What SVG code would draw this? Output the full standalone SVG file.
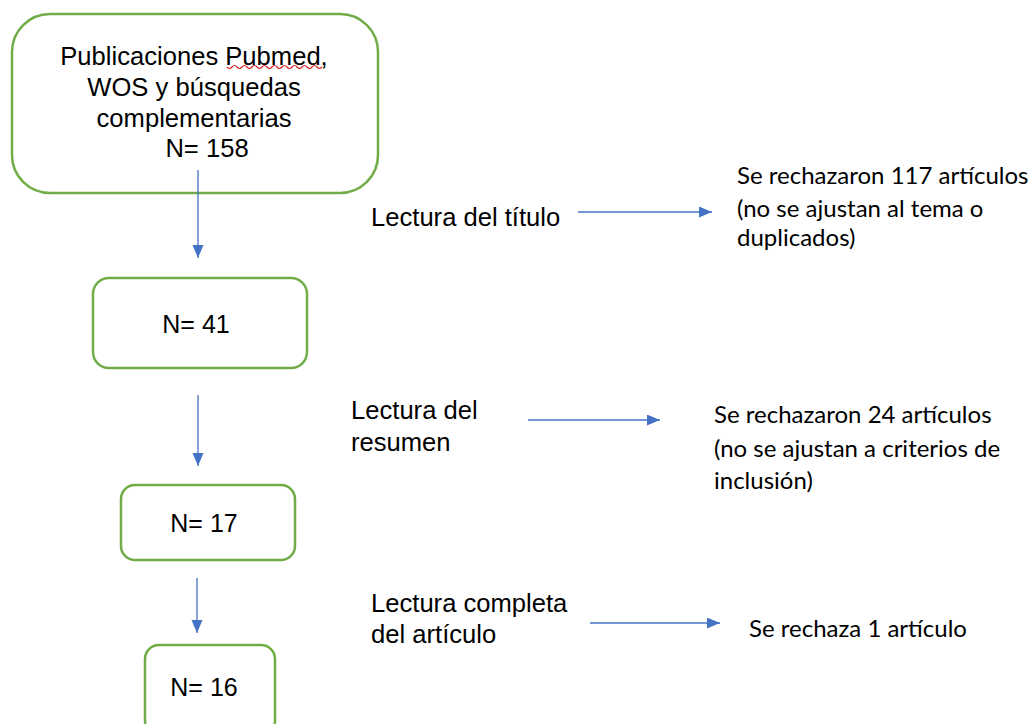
<svg xmlns="http://www.w3.org/2000/svg" width="1029" height="724" viewBox="0 0 1029 724">
<style>
.box{fill:#fff;stroke:#70AD47;stroke-width:2.5}
.t{font-family:"Liberation Sans",Arial,sans-serif;font-size:25px;fill:#000}
.lb{font-size:25.6px}
.c{font-family:Lato,"Liberation Sans",sans-serif;font-size:24px;fill:#000}
.e{stroke:#4472C4;stroke-width:1.3;fill:none;marker-end:url(#ah)}
</style>
<defs>
<marker id="ah" markerUnits="userSpaceOnUse" markerWidth="14" markerHeight="12" refX="13" refY="5.5" orient="auto">
<path d="M0,0 L13,5.5 L0,11 z" fill="#4472C4"/>
</marker>
</defs>
<rect width="1029" height="724" fill="#fff"/>
<g id="n1">
<rect class="box" x="12" y="14" width="366" height="179" rx="38"/>
<text class="t lb" text-anchor="middle" x="194" y="65">Publicaciones Pubmed,</text>
<path d="M227,67 q2.5,3 5,0 t5,0 t5,0 t5,0 t5,0 t5,0 t5,0 t5,0 t5,0 t5,0 t5,0 t5,0 t5,0 t5,0 t5,0 t5,0 t5,0 t5,0 t5,0" fill="none" stroke="#E02020" stroke-width="1.2"/>
<text class="t lb" text-anchor="middle" x="194" y="96">WOS y búsquedas</text>
<text class="t lb" text-anchor="middle" x="194" y="127">complementarias</text>
<text class="t lb" text-anchor="middle" x="207" y="157">N= 158</text>
</g>
<g id="n2">
<rect class="box" x="93" y="278" width="214" height="90" rx="16"/>
<text class="t" text-anchor="middle" x="196" y="333">N= 41</text>
</g>
<g id="n3">
<rect class="box" x="121" y="485" width="174" height="75" rx="14"/>
<text class="t" text-anchor="middle" x="204" y="532">N= 17</text>
</g>
<g id="n4">
<rect class="box" x="145" y="645" width="130" height="90" rx="14"/>
<text class="t" text-anchor="middle" x="204" y="696">N= 16</text>
</g>
<g id="l1">
<text class="t lb" x="371" y="226">Lectura del título</text>
</g>
<g id="r1">
<text class="c" x="737" y="184">Se rechazaron 117 artículos</text>
<text class="c" x="737" y="217">(no se ajustan al tema o</text>
<text class="c" x="737" y="246">duplicados)</text>
</g>
<g id="l2">
<text class="t lb" x="351" y="419">Lectura del</text>
<text class="t lb" x="351" y="451">resumen</text>
</g>
<g id="r2">
<text class="c" x="714" y="423">Se rechazaron 24 artículos</text>
<text class="c" x="714" y="457">(no se ajustan a criterios de</text>
<text class="c" x="714" y="489">inclusión)</text>
</g>
<g id="l3">
<text class="t lb" x="371" y="612">Lectura completa</text>
<text class="t lb" x="371" y="643">del artículo</text>
</g>
<g id="r3">
<text class="c" x="749" y="637">Se rechaza 1 artículo</text>
</g>
<g id="connectors">
<line class="e" x1="198" y1="170" x2="198" y2="258"/>
<line class="e" x1="198" y1="395" x2="198" y2="466"/>
<line class="e" x1="197" y1="578" x2="197" y2="633"/>
<line class="e" x1="578" y1="212" x2="712" y2="212"/>
<line class="e" x1="528" y1="420" x2="660" y2="420"/>
<line class="e" x1="590" y1="623" x2="720" y2="623"/>
</g>
</svg>
